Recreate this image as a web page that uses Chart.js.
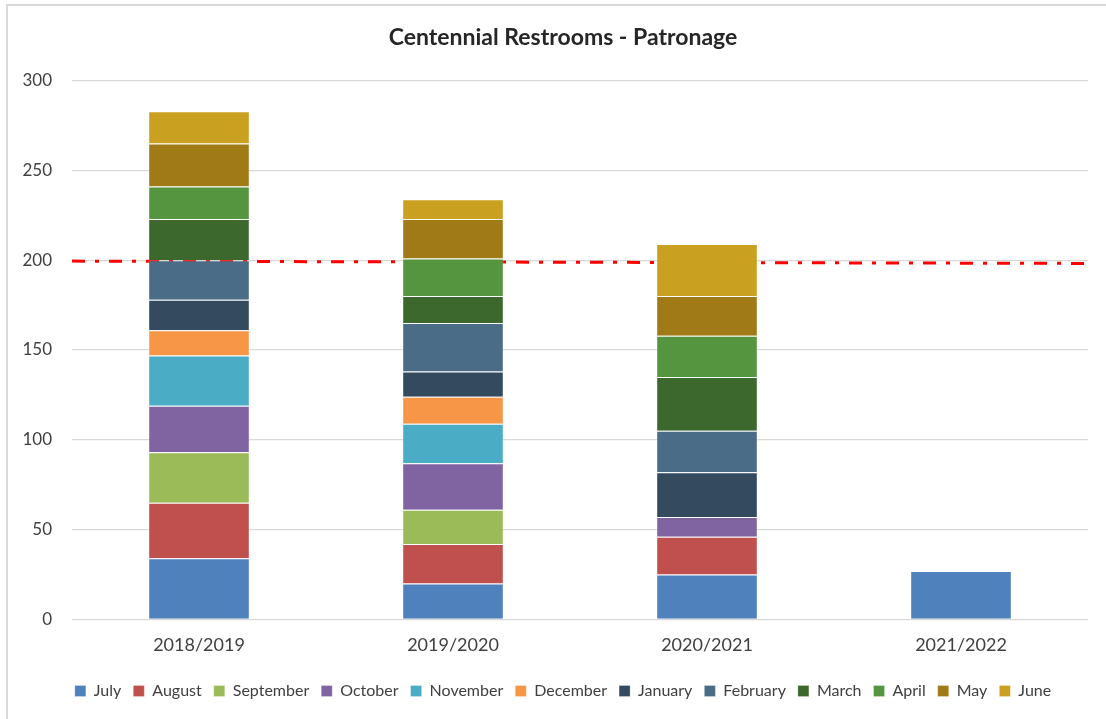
<!DOCTYPE html>
<html>
<head>
<meta charset="utf-8">
<title>Centennial Restrooms - Patronage</title>
<script src="https://cdn.jsdelivr.net/npm/chart.js@4/dist/chart.umd.min.js"></script>
<style>
  html, body { margin: 0; padding: 0; background: #fff; }
  #wrap { position: relative; width: 1106px; height: 719px; overflow: hidden; }
  #frame { position: absolute; left: 6px; top: 4px; width: 1120px; height: 730px; border: 2px solid #d9d9d9; }
  #box { position: absolute; left: 0; top: 0; width: 1106px; height: 719px; }
</style>
</head>
<body>
<div id="wrap">
  <div id="frame"></div>
  <div id="box"><canvas id="chart"></canvas></div>
</div>
<script>
// Financial years along the x axis
const years = ["2018/2019", "2019/2020", "2020/2021", "2021/2022"];

// Monthly patronage per financial year
const july      = [34, 20, 25, 27];
const august    = [31, 22, 21, null];
const september = [28, 19, null, null];
const october   = [26, 26, 11, null];
const november  = [28, 22, null, null];
const december  = [14, 15, null, null];
const january   = [17, 14, 25, null];
const february  = [22, 27, 23, null];
const march     = [23, 15, 30, null];
const april     = [18, 21, 23, null];
const may       = [24, 22, 22, null];
const june      = [18, 11, 29, null];

// Target line, left and right end values
const target = [199.5, 198.2];

const months = [
  ["July", july, "#4f81bd"],
  ["August", august, "#c0504d"],
  ["September", september, "#9bbb59"],
  ["October", october, "#8064a2"],
  ["November", november, "#4bacc6"],
  ["December", december, "#f79646"],
  ["January", january, "#344a5e"],
  ["February", february, "#4a6c87"],
  ["March", march, "#3c672d"],
  ["April", april, "#56953f"],
  ["May", may, "#a07a17"],
  ["June", june, "#c9a01f"]
];

const FONT = "Lato, 'Open Sans', sans-serif";

const datasets = months.map(([label, values, color]) => ({
  type: "bar",
  label: label,
  data: values,
  backgroundColor: color,
  borderColor: "rgba(255,255,255,0.25)",
  borderWidth: 1,
  barPercentage: 0.4,
  categoryPercentage: 1.0,
  grouped: false
}));

datasets.push({
  type: "line",
  label: "Target",
  data: target,
  xAxisID: "x2",
  borderColor: "#ff0000",
  borderWidth: 3,
  borderDash: [13, 10, 4, 10],
  pointRadius: 0,
  fill: false,
  tension: 0
});

// centre title and legend over the plot rather than the whole canvas
const shiftBlocks = {
  id: "shiftBlocks",
  afterLayout(chart) {
    for (const block of [chart.titleBlock, chart.legend]) {
      if (!block) continue;
      block.left += 19;
      block.right += 19;
    }
  }
};

new Chart(document.getElementById("chart"), {
  type: "bar",
  data: { labels: years, datasets: datasets },
  plugins: [shiftBlocks],
  options: {
    responsive: true,
    maintainAspectRatio: false,
    animation: false,
    layout: { padding: { left: 0, right: 18, top: 0, bottom: 10 } },
    plugins: {
      title: {
        display: true,
        text: "Centennial Restrooms - Patronage",
        color: "#262626",
        font: { family: FONT, size: 23, weight: "bold" },
        padding: { top: 24, bottom: 29 }
      },
      legend: {
        position: "bottom",
        labels: {
          color: "#404040",
          font: { family: FONT, size: 16 },
          boxWidth: 11,
          boxHeight: 11,
          padding: 12,
          filter: (item) => item.text !== "Target"
        }
      },
      tooltip: { enabled: false }
    },
    scales: {
      x: {
        stacked: true,
        grid: { display: false, drawTicks: false },
        border: { display: false },
        ticks: { color: "#404040", font: { family: FONT, size: 18 }, padding: 15 }
      },
      x2: {
        type: "category",
        labels: ["start", "end"],
        offset: false,
        display: false
      },
      y: {
        stacked: true,
        min: 0,
        max: 300,
        afterFit: (scale) => { scale.width = 72; },
        grid: { color: "#d9d9d9", lineWidth: 1.3, drawTicks: false },
        border: { display: false },
        ticks: { stepSize: 50, color: "#404040", font: { family: FONT, size: 17 }, padding: 20 }
      }
    }
  }
});
</script>
</body>
</html>
